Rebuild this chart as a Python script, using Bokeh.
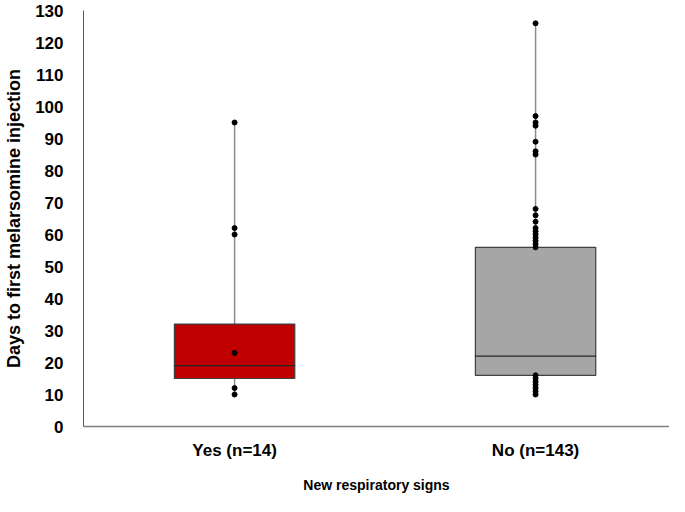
from bokeh.plotting import figure
from bokeh.models import Range1d, FixedTicker, ColumnDataSource
from bokeh.embed import file_html
from bokeh.resources import INLINE

# ---- data ----
categories = ["Yes (n=14)", "No (n=143)"]
positions = [1, 2]
q1 = [15, 16]
median = [19, 22]
q3 = [32, 56]
whisker_low = [10, 10]
whisker_high = [95, 126]
box_colors = ["#C00000", "#A6A6A6"]

points_yes = [95, 62, 60, 23, 12, 10]
points_no = [126, 97, 95, 94, 89, 86, 85, 68, 66, 64, 62, 61, 60, 59, 58, 57, 56,
             16, 15, 14, 13, 12, 11, 10]
y_ticks = list(range(0, 131, 10))

FONT = "Liberation Sans"

p = figure(width=669, height=496, output_backend="svg", toolbar_location=None,
           x_range=Range1d(0.498, 2.445), y_range=Range1d(0, 130),
           min_border_left=83, min_border_right=0, min_border_top=10,
           min_border_bottom=70)

p.xgrid.visible = False
p.ygrid.visible = False
p.outline_line_color = None

box_src = ColumnDataSource(dict(x=positions, q1=q1, q3=q3, med=median,
                                lo=whisker_low, hi=whisker_high, color=box_colors))

# whiskers
p.segment(x0="x", y0="q3", x1="x", y1="hi", source=box_src, line_color="#8C8C8C", line_width=1.5)
p.segment(x0="x", y0="lo", x1="x", y1="q1", source=box_src, line_color="#8C8C8C", line_width=1.5)

# boxes
p.vbar(x="x", width=0.4, bottom="q1", top="q3", source=box_src,
       fill_color="color", line_color="#404040", line_width=1.2)

# medians
p.rect(x="x", y="med", width=0.4, height=0.0001, source=box_src,
       line_color="#262626", line_width=1.2, fill_color=None)

# points
p.scatter([positions[0]] * len(points_yes), points_yes, size=5, color="black")
p.scatter([positions[1]] * len(points_no), points_no, size=5, color="black")

# axes
p.yaxis.ticker = FixedTicker(ticks=y_ticks)
p.xaxis.ticker = FixedTicker(ticks=positions)
p.xaxis.major_label_overrides = {pos: cat for pos, cat in zip(positions, categories)}

for ax in (p.xaxis[0], p.yaxis[0]):
    ax.major_tick_line_color = None
    ax.minor_tick_line_color = None
    ax.major_label_text_font = FONT
    ax.major_label_text_font_style = "bold"
    ax.major_label_text_font_size = "17px"
    ax.major_label_text_color = "black"
    ax.axis_label_text_font = FONT
    ax.axis_label_text_font_style = "bold"
    ax.axis_label_text_color = "black"

p.yaxis.axis_line_color = "#595959"
p.yaxis.axis_line_width = 1
p.yaxis.major_label_standoff = 14
p.yaxis.axis_label = "Days to first melarsomine injection"
p.yaxis.axis_label_text_font_size = "18px"
p.yaxis.axis_label_standoff = 8

p.xaxis.axis_line_color = "#7F7F7F"
p.xaxis.axis_line_width = 1.5
p.xaxis.major_label_standoff = 8
p.xaxis.axis_label = "New respiratory signs"
p.xaxis.axis_label_text_font_size = "14px"
p.xaxis.axis_label_standoff = 14

open("out.html", "w").write(file_html(p, INLINE))
